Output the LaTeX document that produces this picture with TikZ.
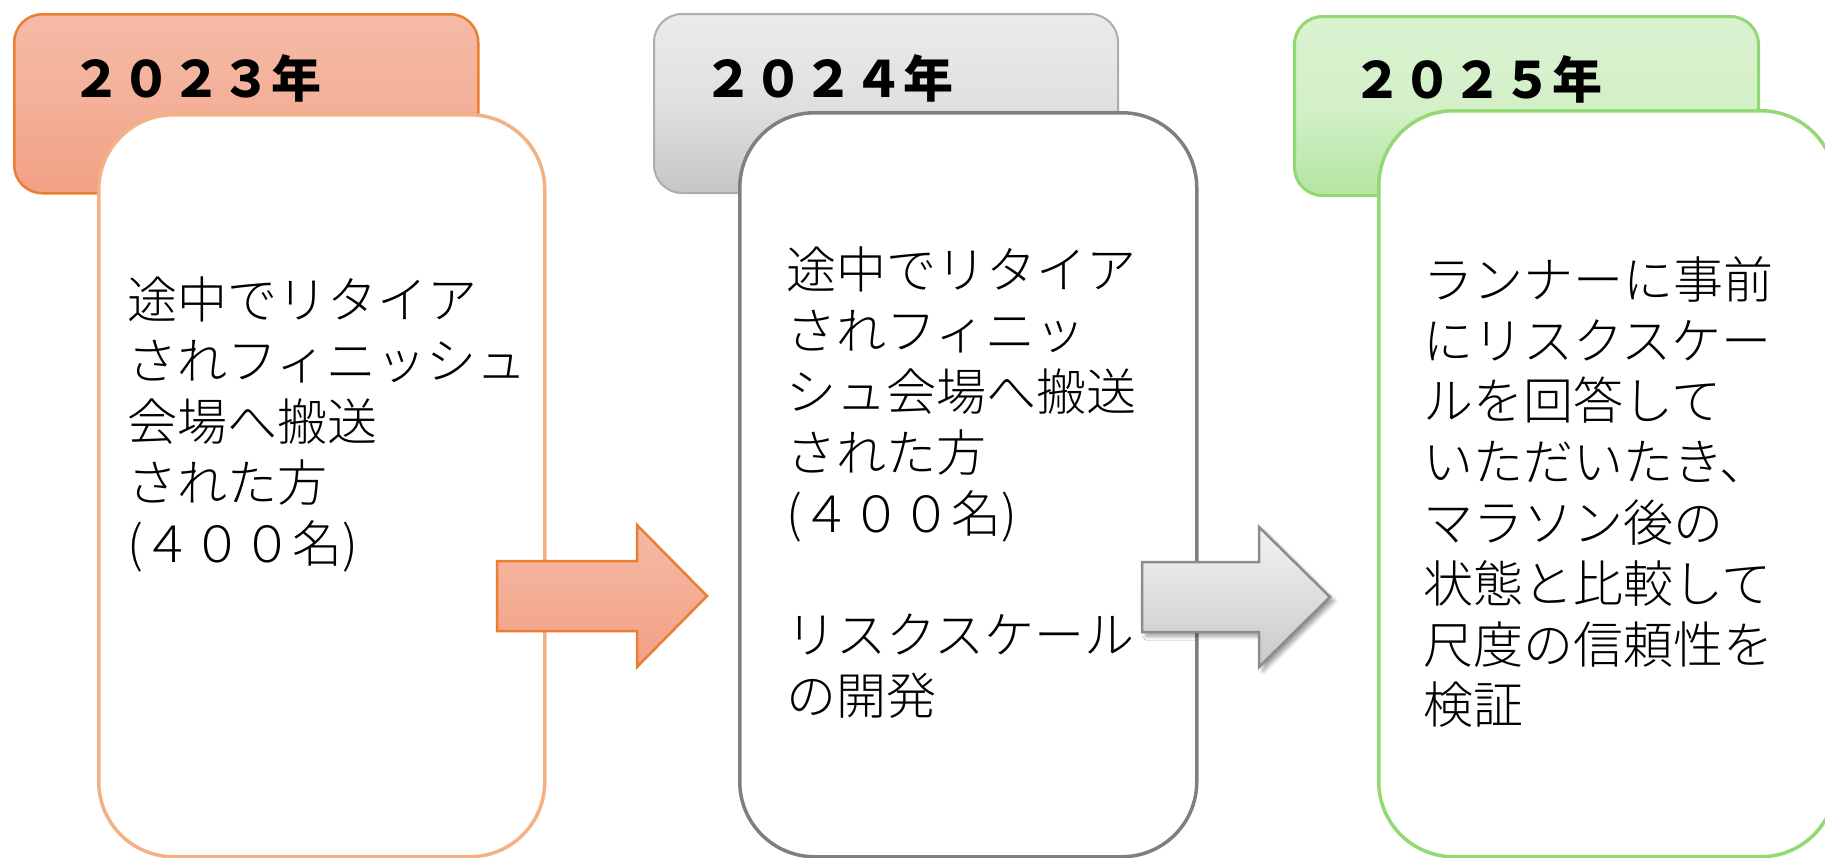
\documentclass[tikz,border=0pt]{standalone}
\usepackage{fontspec}
\newfontfamily\jp{Noto Sans CJK JP}
\IfFontExistsTF{Noto Sans CJK JP Light}{\newfontfamily\jpl{Noto Sans CJK JP Light}}{\newfontfamily\jpl{Noto Sans CJK JP}}
\usetikzlibrary{shadows.blur}
\definecolor{orEdge}{HTML}{ED7D31}
\definecolor{orTop}{HTML}{F5BAA6}
\definecolor{orBot}{HTML}{F2A084}
\definecolor{orBody}{HTML}{F4B183}
\definecolor{grEdge}{HTML}{ADADAD}
\definecolor{grTop}{HTML}{EBEBEB}
\definecolor{grBot}{HTML}{C6C6C6}
\definecolor{grBody}{HTML}{7F7F7F}
\definecolor{grArrow}{HTML}{8C8C8C}
\definecolor{gnEdge}{HTML}{92D873}
\definecolor{gnTop}{HTML}{D9F2D0}
\definecolor{gnBot}{HTML}{B3E5A0}
\tikzset{
  header/.style={rounded corners=28pt, inner sep=0pt, anchor=north west, line width=2.5pt},
  bodybox/.style={rounded corners=75pt, inner sep=0pt, anchor=north west, fill=white, line width=3.5pt},
  yeartext/.style={anchor=base west, inner sep=0pt, font=\jp\bfseries\fontsize{50}{50}\selectfont},
  bodytext/.style={anchor=north west, inner sep=0pt, align=left, font=\jpl\fontsize{50}{60.8}\selectfont},
  blockarrow/.style={line width=2.5pt, line join=miter}
}
\begin{document}
\begin{tikzpicture}[x=1pt,y=-1pt]
\useasboundingbox (0,0) rectangle (1825,857);

% ---- 2023 ----
\node[header, draw=orEdge, top color=orTop, bottom color=orBot, middle color=orTop!60!orBot,
      minimum width=464pt, minimum height=179pt] (h1) at (13,13) {};
\node[yeartext] (y1) at (71,97) {２０２３年};
\node[bodybox, draw=orBody, minimum width=446pt, minimum height=742pt] (b1) at (97,113) {};
\node[bodytext] (t1) at (127,277) {途中でリタイア\\されフィニッシュ\\会場へ搬送\\された方\\(４００名)};

% ---- 2024 ----
\node[header, draw=grEdge, line width=2pt, top color=grTop, bottom color=grBot, middle color=grTop!70!grBot,
      minimum width=464pt, minimum height=179pt] (h2) at (653,13) {};
\node[yeartext] (y2) at (703,97) {２０２４年};
\node[bodybox, draw=grBody, minimum width=457pt, minimum height=744pt] (b2) at (738,111) {};
\node[bodytext] (t2) at (786,247) {途中でリタイア\\されフィニッ\\シュ会場へ搬送\\された方\\(４００名)\\[60.8pt]リスクスケール\\の開発};

% ---- 2025 ----
\node[header, draw=gnEdge, line width=3pt, top color=gnTop, bottom color=gnBot, middle color=gnTop!85!gnBot,
      minimum width=464pt, minimum height=179pt] (h3) at (1293,15) {};
\node[yeartext] (y3) at (1352,98) {２０２５年};
\node[bodybox, draw=gnEdge, minimum width=457pt, minimum height=746pt] (b3) at (1377,109) {};
\node[bodytext] (t3) at (1423,256) {ランナーに事前\\にリスクスケー\\ルを回答して\\いただいたき、\\マラソン後の\\状態と比較して\\尺度の信頼性を\\検証};

% ---- arrows ----
\coordinate (a1s) at (497,596);
\coordinate (a1e) at (707,596);
\draw[blockarrow, draw=orEdge, top color=orTop, bottom color=orBot]
  (a1s |- 0,561) -- (637,561) -- (637,525) -- (a1e) -- (637,667) -- (637,631) -- (a1s |- 0,631) -- cycle;
\coordinate (a2s) at (1142,597);
\coordinate (a2e) at (1330,597);
\draw[blockarrow, draw=grArrow, top color=grTop!60!white, bottom color=grBot!95!white,
      blur shadow={shadow xshift=4pt, shadow yshift=-4pt, shadow blur steps=6, shadow blur radius=4pt, shadow opacity=40}]
  (a2s |- 0,562) -- (1259,562) -- (1259,527) -- (a2e) -- (1259,667) -- (1259,632) -- (a2s |- 0,632) -- cycle;
\end{tikzpicture}
\end{document}
